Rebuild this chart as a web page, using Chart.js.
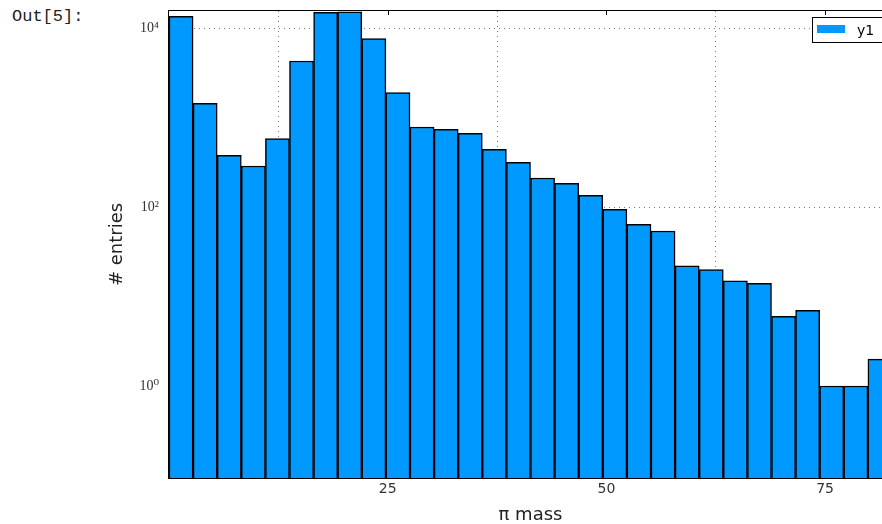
<!DOCTYPE html>
<html>
<head>
<meta charset="utf-8">
<script src="https://cdn.jsdelivr.net/npm/chart.js@4.4.0/dist/chart.umd.min.js"></script>
<style>
    html, body { margin: 0; padding: 0; background: #fff; overflow: hidden; }
    .prompt {
        position: absolute; left: 12px; top: 7px;
        font-family: "Liberation Mono", "DejaVu Sans Mono", monospace;
        font-size: 17px; color: #222;
    }
    .chart { position: absolute; left: 0; top: 0; width: 900px; height: 524px; }
</style>
</head>
<body>
<div class="prompt">Out[5]:</div>
<div class="chart"><canvas id="histChart" width="900" height="524"></canvas></div>
<script>
// histogram bins (bin centres, pi mass)
const binCenters = [1.378, 4.133, 6.888, 9.643, 12.398, 15.153, 17.908, 20.663, 23.418, 26.173,
                    28.928, 31.683, 34.438, 37.193, 39.948, 42.703, 45.458, 48.213, 50.968, 53.723,
                    56.478, 59.233, 61.988, 64.743, 67.498, 70.253, 73.008, 75.763, 78.518, 81.273];
const entries = [13500, 1440, 378, 287, 581, 4280, 15000, 15200, 7620, 1900,
                 783, 738, 666, 441, 316, 211, 184, 135, 94, 64,
                 54, 22, 20, 15, 14, 6, 7, 1, 1, 2];
const seriesName = 'y1';

const xTickValues = [25, 50, 75];
const yTickValues = [1, 100, 10000];
const yTickLabels = ['10\u2070', '10\u00B2', '10\u2074'];

document.addEventListener('DOMContentLoaded', function() {
    if (typeof Chart === 'undefined') {
        console.error("Chart.js library is not loaded!");
        return;
    }

    // frame, top ticks and the legend box, matplotlib style
    const framePlugin = {
        id: 'frame',
        afterDatasetsDraw(chart) {
            const {ctx, chartArea: a, scales} = chart;
            ctx.save();
            ctx.strokeStyle = '#000';
            ctx.lineWidth = 1;
            ctx.strokeRect(a.left - 0.5, a.top - 0.5, a.right - a.left + 1, a.bottom - a.top + 1);
            ctx.beginPath();
            xTickValues.forEach(v => {
                const px = Math.round(scales.x.getPixelForValue(v)) + 0.5;
                ctx.moveTo(px, a.top);
                ctx.lineTo(px, a.top + 4);
            });
            ctx.stroke();

            // legend
            const bx = 812.5, by = 17.5;
            ctx.fillStyle = '#fff';
            ctx.fillRect(bx, by, 76, 25);
            ctx.strokeRect(bx, by, 76, 25);
            ctx.fillStyle = chart.data.datasets[0].backgroundColor;
            ctx.fillRect(817, 25, 28, 8);
            ctx.fillStyle = '#000';
            ctx.font = '14px "DejaVu Sans", sans-serif';
            ctx.textBaseline = 'alphabetic';
            ctx.fillText(seriesName, 857, 35);
            ctx.restore();
        }
    };

    const ctx = document.getElementById('histChart');
    new Chart(ctx.getContext('2d'), {
        type: 'bar',
        data: {
            datasets: [{
                label: seriesName,
                data: binCenters.map((x, i) => ({ x: x, y: entries[i] })),
                backgroundColor: '#0099ff',
                borderColor: '#000',
                borderWidth: 1.5,
                barPercentage: 1.0,
                categoryPercentage: 1.0,
                grouped: false
            }]
        },
        options: {
            responsive: false,
            animation: false,
            devicePixelRatio: 1,
            layout: { padding: { left: 0, top: 11, right: 8, bottom: 0 } },
            plugins: {
                legend: { display: false },
                tooltip: { enabled: false }
            },
            scales: {
                x: {
                    type: 'linear',
                    min: 0,
                    max: 82.65,
                    offset: false,
                    afterBuildTicks: scale => { scale.ticks = xTickValues.map(v => ({ value: v })); },
                    afterFit: scale => {
                        scale.height = 46;
                        scale.paddingLeft = 0;
                        scale.paddingRight = 0;
                    },
                    grid: { color: '#777', lineWidth: 1, drawTicks: false },
                    border: { display: false, dash: [1, 4] },
                    ticks: {
                        padding: 3,
                        color: '#333',
                        font: { family: '"DejaVu Sans", sans-serif', size: 14 },
                        maxRotation: 0
                    },
                    title: {
                        display: true,
                        text: '\u03C0 mass',
                        color: '#222',
                        font: { family: '"DejaVu Sans", sans-serif', size: 18, lineHeight: 1 },
                        padding: { top: 0, bottom: 0 }
                    }
                },
                y: {
                    type: 'logarithmic',
                    min: 0.0938,
                    max: 15490,
                    afterBuildTicks: scale => { scale.ticks = yTickValues.map(v => ({ value: v })); },
                    afterFit: scale => {
                        scale.width = 169;
                        scale.paddingTop = 0;
                        scale.paddingBottom = 0;
                    },
                    grid: { color: '#777', lineWidth: 1, drawTicks: false },
                    border: { display: false, dash: [1, 4] },
                    ticks: {
                        padding: 10,
                        color: '#333',
                        font: { family: '"Liberation Serif", "DejaVu Serif", serif', size: 14 },
                        callback: function(value) {
                            const i = yTickValues.indexOf(value);
                            return i >= 0 ? yTickLabels[i] : '';
                        }
                    },
                    title: {
                        display: true,
                        text: '# entries',
                        color: '#222',
                        font: { family: '"DejaVu Sans", sans-serif', size: 18, lineHeight: 1.2 },
                        padding: { top: 107, bottom: 0 }
                    }
                }
            }
        },
        plugins: [framePlugin]
    });
});
</script>
</body>
</html>
